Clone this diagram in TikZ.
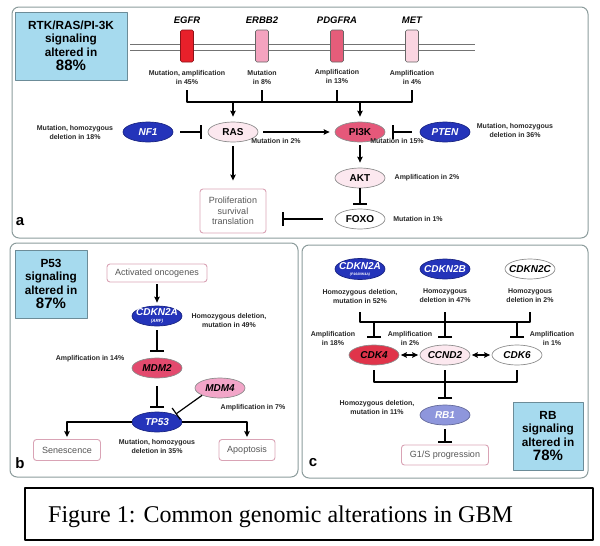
\documentclass[tikz,border=0pt]{standalone}
\usepackage{fontspec}
\setmainfont{Liberation Sans}
\newfontfamily\capfont{Liberation Serif}
\usetikzlibrary{shapes.geometric,arrows.meta}
\definecolor{boxblue}{RGB}{166,218,238}
\definecolor{boxedge}{RGB}{108,140,152}
\definecolor{panelgray}{RGB}{140,156,156}
\definecolor{genedark}{RGB}{36,52,186}
\definecolor{egfrred}{RGB}{232,32,42}
\definecolor{erbbpink}{RGB}{244,163,191}
\definecolor{pdgfpink}{RGB}{229,93,122}
\definecolor{metpink}{RGB}{251,213,225}
\definecolor{pikred}{RGB}{229,88,122}
\definecolor{mdmred}{RGB}{227,74,110}
\definecolor{mdmpink}{RGB}{242,165,200}
\definecolor{cdkred}{RGB}{224,52,74}
\definecolor{rbblue}{RGB}{142,150,220}
\definecolor{lightpink}{RGB}{252,232,239}
\definecolor{outpink}{RGB}{217,163,181}
\definecolor{outtext}{RGB}{85,85,85}
\tikzset{
  panel/.style={draw=panelgray, line width=1pt, rounded corners=7pt},
  infobox/.style={draw=boxedge, fill=boxblue, line width=1pt, align=center,
    font=\bfseries\fontsize{11.8}{13.5}\selectfont},
  receptor/.style={draw=black!60, rounded corners=1.5pt, line width=0.6pt,
    minimum width=13pt, minimum height=32pt, inner sep=0pt},
  rlabel/.style={font=\bfseries\itshape\fontsize{9.5}{10}\selectfont},
  gene/.style={ellipse, draw=black!45, line width=0.7pt, minimum width=50pt,
    minimum height=20pt, inner xsep=-4pt, inner ysep=-1pt,
    font=\bfseries\itshape\fontsize{10}{10}\selectfont, align=center},
  darkgene/.style={gene, fill=genedark, draw=genedark!70!black, text=white},
  prot/.style={gene, font=\bfseries\fontsize{10}{10}\selectfont},
  outcome/.style={draw=outpink, rounded corners=3pt, line width=0.9pt,
    text=outtext, font=\fontsize{9}{10.5}\selectfont, align=center},
  note/.style={font=\bfseries\fontsize{7}{9}\selectfont, align=center,
    text=black!85, inner sep=1pt},
  panelletter/.style={font=\bfseries\fontsize{15}{15}\selectfont},
  line/.style={line width=1.2pt},
  act/.style={->, line width=1.2pt, shorten >=5pt},
  inh/.style={-{Bar[width=14pt]}, line width=1.2pt, shorten >=6pt},
  dbl/.style={<->, line width=1.2pt, shorten >=1.5pt, shorten <=1.5pt},
}
\begin{document}
\begin{tikzpicture}[x=1pt,y=-1pt,>={Stealth[length=6pt,width=5.5pt,inset=1pt]},
    line join=round]
\useasboundingbox (0,0) rectangle (600,546);
% panels
\draw[panel] (12,7) rectangle (588,238);
\draw[panel] (10,243) rectangle (298,477);
\draw[panel] (302,245) rectangle (588,478);

% ---------- a : RTK/RAS/PI3K ----------
\node[infobox, minimum width=112pt, minimum height=68pt] (bxa) at (71,46)
  {RTK/RAS/PI-3K\\signaling\\altered in\\[1pt]{\fontsize{15}{15}\selectfont 88\%}};
\draw[draw=black!55, line width=1pt] (130,44) -- (475,44) (130,50) -- (475,50);
\node[receptor, fill=egfrred, draw=egfrred!60!black] (egfr) at (187,46) {};
\node[receptor, fill=erbbpink] (erbb) at (262,46) {};
\node[receptor, fill=pdgfpink] (pdgf) at (337,46) {};
\node[receptor, fill=metpink] (met) at (412,46) {};
\node[rlabel] (lEGFR) at (187,20) {EGFR};
\node[rlabel] (lERBB) at (262,20) {ERBB2};
\node[rlabel] (lPDGF) at (337,20) {PDGFRA};
\node[rlabel] (lMET) at (412,20) {MET};
\node[note] (nEGFR) at (187,77) {Mutation, amplification\\in 45\%};
\node[note] (nERBB) at (262,77) {Mutation\\in 8\%};
\node[note] (nPDGF) at (337,77) {Amplification\\in 13\%};
\node[note] (nMET) at (412,77) {Amplification\\in 4\%};

\node[prot, fill=lightpink] (ras) at (233,132) {RAS};
\node[darkgene] (nf1) at (148,132) {NF1};
\node[prot, fill=pikred] (pi3k) at (360,132) {PI3K};
\node[darkgene] (pten) at (445,132) {PTEN};
\node[prot, fill=lightpink] (akt) at (360,178) {AKT};
\node[prot, fill=white] (foxo) at (360,219) {FOXO};
\node[outcome, minimum width=66pt, minimum height=44pt] (prolif) at (233,211)
  {Proliferation\\survival\\translation};
\node[note] (n18) at (75,132) {Mutation, homozygous\\deletion in 18\%};
\node[note] (n36) at (515,131) {Mutation, homozygous\\deletion in 36\%};
\node[note] (nras) at (276,141) {Mutation in 2\%};
\node[note] (npik) at (397,141) {Mutation in 15\%};
\node[note] (nakt) at (427,178) {Amplification in 2\%};
\node[note] (nfoxo) at (418,219) {Mutation in 1\%};
\node[panelletter] (la) at (20,222) {a};

\def\ja{102}
\draw[line] (nEGFR.south |- 0,90) |- (nMET.south |- 0,\ja) -- (nMET.south |- 0,90);
\foreach \n in {nERBB,nPDGF} \draw[line] (\n.south |- 0,90) -- (\n.south |- 0,\ja);
\draw[act] (ras |- 0,\ja) -- (ras);
\draw[act] (pi3k |- 0,\ja) -- (pi3k);
\draw[inh, shorten <=7pt] (nf1) -- (ras);
\draw[act, shorten <=5pt] (ras) -- (pi3k);
\draw[inh, shorten <=8pt, shorten >=7pt] (pten) -- (pi3k);
\draw[act, shorten <=3pt] (pi3k) -- (akt);
\draw[inh, shorten >=4pt] (akt) -- (foxo);
\draw[inh, shorten <=12pt, shorten >=16pt] (foxo.west) -- (foxo -| prolif.east);
\draw[act, shorten <=4pt, shorten >=8pt] (ras) -- (prolif);

% ---------- b : P53 ----------
\node[infobox, minimum width=72pt, minimum height=68pt] (bxb) at (51,284)
  {P53\\signaling\\altered in\\[1pt]{\fontsize{15}{15}\selectfont 87\%}};
\node[outcome, minimum width=100pt, minimum height=18pt] (onc) at (157,273) {Activated oncogenes};
\node[darkgene] (arf) at (157,316) {CDKN2A\\[-3.5pt]{\fontsize{4.5}{5}\selectfont (ARF)}};
\node[note] (n49) at (229,320) {Homozygous deletion,\\mutation in 49\%};
\node[gene, fill=mdmred] (mdm2) at (157,368) {MDM2};
\node[note] (n14) at (90,359) {Amplification in 14\%};
\node[gene, fill=mdmpink] (mdm4) at (220,388) {MDM4};
\node[note] (n7) at (253,408) {Amplification in 7\%};
\node[darkgene] (tp53) at (157,422) {TP53};
\node[note] (n35) at (157,446) {Mutation, homozygous\\deletion in 35\%};
\node[outcome, minimum width=67pt, minimum height=21pt] (sen) at (67,450) {Senescence};
\node[outcome, minimum width=56pt, minimum height=21pt] (apo) at (247,450) {Apoptosis};
\node[panelletter] (lb) at (20,463) {b};

\draw[act, shorten <=2pt, shorten >=3pt] (onc) -- (arf);
\draw[inh, shorten <=4pt] (arf) -- (mdm2);
\draw[inh, shorten <=8pt, shorten >=4pt] (mdm2) -- (tp53);
\draw[inh, shorten >=1pt] (mdm4.south west) -- (tp53.north east);
\draw[act, shorten >=2pt] (tp53.west) -| (sen.north);
\draw[act, shorten >=2pt] (tp53.east) -| (apo.north);

% ---------- c : RB ----------
\node[infobox, minimum width=70pt, minimum height=68pt] (bxc) at (548,436)
  {RB\\signaling\\altered in\\[1pt]{\fontsize{15}{15}\selectfont 78\%}};
\node[darkgene, minimum height=21pt] (p16) at (360,269) {CDKN2A\\[-4pt]{\fontsize{3.5}{4}\selectfont (P16/INK4A)}};
\node[darkgene] (c2b) at (445,269) {CDKN2B};
\node[gene, fill=white] (c2c) at (530,269) {CDKN2C};
\node[note] (n52) at (360,296) {Homozygous deletion,\\mutation in 52\%};
\node[note] (n47) at (445,296) {Homozygous\\deletion in 47\%};
\node[note] (n2c) at (530,296) {Homozygous\\deletion in 2\%};
\node[gene, fill=cdkred] (cdk4) at (374,355) {CDK4};
\node[gene, fill=lightpink] (ccnd2) at (445,355) {CCND2};
\node[gene, fill=white] (cdk6) at (517,355) {CDK6};
\node[note] (n18c) at (333,338) {Amplification\\in 18\%};
\node[note] (n2d) at (410,338) {Amplification\\in 2\%};
\node[note] (n1c) at (552,338) {Amplification\\in 1\%};
\node[gene, fill=rbblue, draw=rbblue!70!black, text=white] (rb1) at (445,415) {RB1};
\node[note] (n11) at (377,407) {Homozygous deletion,\\mutation in 11\%};
\node[outcome, minimum width=87pt, minimum height=20pt] (gs) at (445,455) {G1/S progression};
\node[panelletter] (lc) at (313,463) {c};

\def\jc{322}
\draw[line] (n52.south |- 0,312) |- (n2c.south |- 0,\jc) -- (n2c.south |- 0,312);
\draw[line] (n47.south |- 0,312) -- (n47.south |- 0,\jc);
\foreach \g in {cdk4,ccnd2,cdk6} \draw[inh, shorten >=7pt] (\g |- 0,\jc) -- (\g);
\draw[dbl] (cdk4) -- (ccnd2);
\draw[dbl] (ccnd2) -- (cdk6);
\def\jd{382}
\draw[line] (cdk4 |- 0,370) |- (cdk6 |- 0,\jd) -- (cdk6 |- 0,370);
\draw[inh, shorten <=5pt] (ccnd2) -- (rb1);
\draw[inh, shorten <=4pt, shorten >=2pt] (rb1) -- (gs);

% caption
\node[draw=black, line width=2pt, minimum width=568pt, minimum height=52pt] (capbox) at (309,514) {};
\node[anchor=base west, inner sep=0pt, font=\capfont\fontsize{24}{24}\selectfont] (captext) at (48,522)
  {Figure 1: Common genomic alterations in GBM};
\end{tikzpicture}
\end{document}
